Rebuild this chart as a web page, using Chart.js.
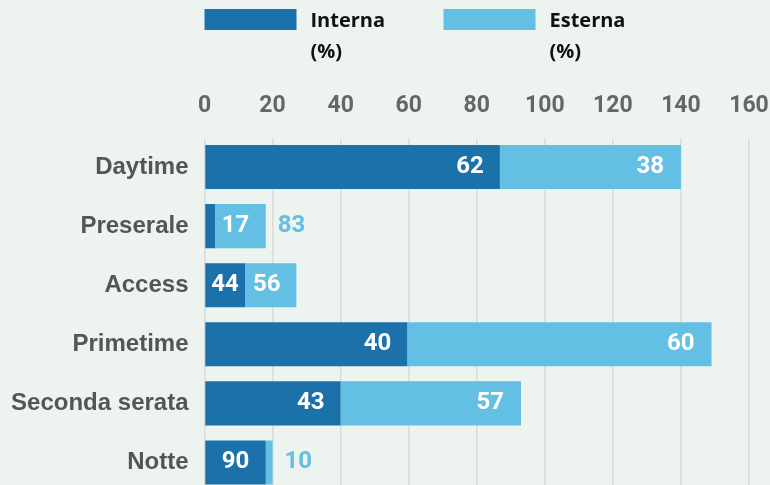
<!DOCTYPE html>
<html>
<head>
<meta charset="utf-8">
<script src="https://cdn.jsdelivr.net/npm/chart.js@4.4.1/dist/chart.umd.min.js"></script>
<style>
  html, body { margin: 0; padding: 0; background: #edf3ef; overflow: hidden; }
  #wrap { width: 770px; height: 492px; }
</style>
</head>
<body>
<div id="wrap"><canvas id="chart" width="770" height="492"></canvas></div>
<script>
const fasce = ["Daytime", "Preserale", "Access", "Primetime", "Seconda serata", "Notte"];
// bar lengths
const interna = [86.8, 3.1, 11.9, 59.6, 40, 18];
const esterna = [53.2, 14.9, 15.1, 89.4, 53, 2];
// percentage labels printed on the bars
const pctInterna = [62, 17, 44, 40, 43, 90];
const pctEsterna = [38, 83, 56, 60, 57, 10];
const xTicks = [0, 20, 40, 60, 80, 100, 120, 140, 160];

const DARK = "#1b72aa";
const LIGHT = "#63bfe4";

// scales must not push the plot area in for their outer labels
const noPad = (s) => {
  s.paddingLeft = 0; s.paddingRight = 0; s.paddingTop = 0; s.paddingBottom = 0;
};

const legendPlugin = {
  id: "legendTop",
  afterDraw(chart) {
    const ctx = chart.ctx;
    const left = chart.chartArea.left;
    ctx.save();
    chart.data.datasets.forEach((ds, i) => {
      const bx = left + i * 239;
      ctx.fillStyle = ds.backgroundColor;
      ctx.fillRect(bx, 9, 92, 21);
      ctx.fillStyle = "#111";
      ctx.font = "bold 20px 'Open Sans'";
      ctx.textAlign = "left";
      ctx.textBaseline = "middle";
      const lines = ds.label.split("\n");
      lines.forEach((l, k) => ctx.fillText(l, bx + 106, 21 + k * 31));
    });
    ctx.restore();
  }
};

const barLabels = {
  id: "barLabels",
  afterDatasetsDraw(chart) {
    const ctx = chart.ctx;
    const m0 = chart.getDatasetMeta(0).data;
    const m1 = chart.getDatasetMeta(1).data;
    ctx.save();
    ctx.font = "bold 24px Roboto";
    ctx.textBaseline = "middle";
    fasce.forEach((f, i) => {
      const a = m0[i], b = m1[i];
      const t0 = String(pctInterna[i]), t1 = String(pctEsterna[i]);
      const w0 = a.x - a.base, w1 = b.x - b.base;
      let lightOutside = false;
      ctx.fillStyle = "#fff";
      if (w0 > 70) {
        ctx.textAlign = "right";
        ctx.fillText(t0, a.x - 16, a.y);
      } else if (w0 >= ctx.measureText(t0).width + 8) {
        ctx.textAlign = "center";
        ctx.fillText(t0, (a.x + a.base) / 2, a.y);
      } else {
        ctx.textAlign = "center";
        ctx.fillText(t0, (b.x + b.base) / 2 - 5, b.y);
        lightOutside = true;
      }
      if (!lightOutside && w1 > 70) {
        ctx.textAlign = "right";
        ctx.fillText(t1, b.x - 17, b.y);
      } else if (!lightOutside && w1 >= ctx.measureText(t1).width + 8) {
        ctx.textAlign = "center";
        ctx.fillText(t1, (b.x + b.base) / 2 - 4, b.y);
      } else {
        ctx.fillStyle = LIGHT;
        ctx.textAlign = "left";
        ctx.fillText(t1, b.x + 12, b.y);
      }
    });
    ctx.restore();
  }
};

new Chart(document.getElementById("chart"), {
  type: "bar",
  data: {
    labels: fasce,
    datasets: [
      { label: "Interna\n(%)", data: interna, backgroundColor: DARK },
      { label: "Esterna\n(%)", data: esterna, backgroundColor: LIGHT }
    ]
  },
  options: {
    indexAxis: "y",
    responsive: false,
    animation: false,
    devicePixelRatio: 1,
    layout: { padding: { top: 85, left: 0, right: 21, bottom: 0 } },
    datasets: { bar: { categoryPercentage: 1, barPercentage: 0.745 } },
    plugins: { legend: { display: false }, tooltip: { enabled: false } },
    scales: {
      x: {
        position: "top",
        stacked: true,
        min: 0,
        max: 160,
        afterBuildTicks: (s) => { s.ticks = xTicks.map(v => ({ value: v })); },
        afterFit: (s) => { s.height = 52.5; noPad(s); },
        border: { display: false },
        grid: { color: "#d9dcd9", lineWidth: 1.5, drawTicks: false },
        ticks: { padding: 17, color: "#666", font: { family: "Roboto", weight: "bold", size: 23 } }
      },
      y: {
        stacked: true,
        afterFit: (s) => { s.width = 204.5; noPad(s); },
        border: { display: false },
        grid: { display: false, drawTicks: false },
        ticks: { padding: 16, color: "#555", font: { family: "'Liberation Sans'", weight: "bold", size: 24 } }
      }
    }
  },
  plugins: [legendPlugin, barLabels]
});
</script>
</body>
</html>
